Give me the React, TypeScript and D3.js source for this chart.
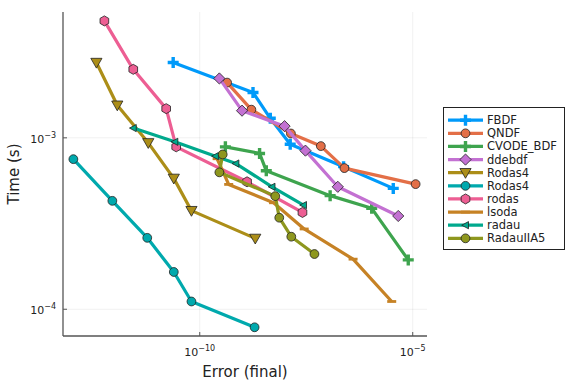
import React, {useEffect, useRef} from "react";
import * as d3 from "d3";

// error (final) / time (s) pairs
const fbdfErr = [2.38e-11, 1.78e-9, 4.53e-9, 1.33e-8, 2.38e-7, 3.49e-6];
const fbdfTime = [2.75e-3, 1.84e-3, 1.30e-3, 9.18e-4, 6.79e-4, 5.07e-4];
const qndfErr = [4.39e-10, 1.63e-9, 1.38e-8, 6.97e-8, 2.49e-7, 1.17e-5];
const qndfTime = [2.10e-3, 1.46e-3, 1.06e-3, 8.95e-4, 6.66e-4, 5.37e-4];
const cvodeErr = [4.0e-10, 2.54e-9, 3.65e-9, 1.15e-7, 1.09e-6, 7.85e-6];
const cvodeTime = [8.86e-4, 8.11e-4, 6.42e-4, 4.60e-4, 3.88e-4, 1.94e-4];
const ddebdfErr = [2.89e-10, 9.84e-10, 9.8e-9, 3.03e-8, 1.74e-7, 4.57e-6];
const ddebdfTime = [2.22e-3, 1.44e-3, 1.17e-3, 8.42e-4, 5.18e-4, 3.50e-4];
const rodas4aErr = [3.75e-13, 1.16e-12, 6.19e-12, 2.46e-11, 6.39e-11, 2.01e-9];
const rodas4aTime = [2.75e-3, 1.55e-3, 9.35e-4, 5.80e-4, 3.76e-4, 2.59e-4];
const rodas4bErr = [1.08e-13, 8.88e-13, 5.86e-12, 2.46e-11, 6.39e-11, 1.94e-9];
const rodas4bTime = [7.51e-4, 4.29e-4, 2.61e-4, 1.65e-4, 1.11e-4, 7.85e-5];
const rodasErr = [5.77e-13, 2.75e-12, 1.63e-11, 2.8e-11, 1.29e-9, 2.58e-8];
const rodasTime = [4.81e-3, 2.51e-3, 1.48e-3, 8.86e-4, 5.54e-4, 3.67e-4];
const lsodaErr = [2.56e-10, 4.78e-10, 5.41e-9, 2.83e-8, 3.98e-7, 3.21e-6];
const lsodaTime = [7.55e-4, 5.35e-4, 4.18e-4, 2.94e-4, 1.96e-4, 1.11e-4];
const radauErr = [2.75e-12, 2.6e-11, 2.33e-10, 7.05e-10, 4.97e-9, 2.73e-8];
const radauTime = [1.14e-3, 9.48e-4, 7.82e-4, 7.08e-4, 5.18e-4, 4.05e-4];
const radau5Err = [3.46e-10, 2.89e-10, 5.93e-9, 7.36e-9, 1.41e-8, 4.93e-8];
const radau5Time = [8.0e-4, 6.29e-4, 4.57e-4, 3.42e-4, 2.65e-4, 2.10e-4];

const names = ["FBDF", "QNDF", "CVODE_BDF", "ddebdf", "Rodas4", "Rodas4", "rodas", "lsoda", "radau", "RadauIIA5"];
const colors = ["#009afa", "#e36f47", "#3ea44e", "#c371d2", "#ac8e18", "#00a9ad", "#ed5e93", "#c68225", "#00a98d", "#8e971e"];
const markers = ["cross", "circle", "cross", "diamond", "dtriangle", "circle", "hexagon", "hline", "ltriangle", "circle"];
const errs = [fbdfErr, qndfErr, cvodeErr, ddebdfErr, rodas4aErr, rodas4bErr, rodasErr, lsodaErr, radauErr, radau5Err];
const times = [fbdfTime, qndfTime, cvodeTime, ddebdfTime, rodas4aTime, rodas4bTime, rodasTime, lsodaTime, radauTime, radau5Time];

const xTicks = [1e-10, 1e-5];
const yTicks = [1e-3, 1e-4];

const W = 576;
const H = 384;
const FONT = "DejaVu Sans, sans-serif";
const left = 63, right = 427, top = 12, bottom = 336;

function markerPath(kind: string, x: number, y: number) {
  const p = d3.path();
  if (kind === "circle") {
    p.arc(x, y, 4.4, 0, 2 * Math.PI);
  } else if (kind === "cross") {
    const a = 5.5, t = 1.7;
    p.moveTo(x - t, y - a); p.lineTo(x + t, y - a); p.lineTo(x + t, y - t);
    p.lineTo(x + a, y - t); p.lineTo(x + a, y + t); p.lineTo(x + t, y + t);
    p.lineTo(x + t, y + a); p.lineTo(x - t, y + a); p.lineTo(x - t, y + t);
    p.lineTo(x - a, y + t); p.lineTo(x - a, y - t); p.lineTo(x - t, y - t);
  } else if (kind === "diamond") {
    const r = 5.6;
    p.moveTo(x, y - r); p.lineTo(x + r, y); p.lineTo(x, y + r); p.lineTo(x - r, y);
  } else if (kind === "dtriangle") {
    p.moveTo(x - 5.6, y - 4.2); p.lineTo(x + 5.6, y - 4.2); p.lineTo(x, y + 5.6);
  } else if (kind === "hexagon") {
    const r = 5;
    for (let i = 0; i < 6; i++) {
      const ang = Math.PI / 6 + (i * Math.PI) / 3;
      const px = x + r * Math.cos(ang), py = y + r * Math.sin(ang);
      if (i === 0) p.moveTo(px, py); else p.lineTo(px, py);
    }
  } else if (kind === "ltriangle") {
    p.moveTo(x - 3.8, y); p.lineTo(x + 3, y - 3.6); p.lineTo(x + 3, y + 3.6);
  } else if (kind === "hline") {
    p.rect(x - 4.5, y - 1.4, 9, 2.8);
  }
  p.closePath();
  return p.toString();
}

function drawMarker(g: any, kind: string, color: string, x: number, y: number) {
  const path = g.append("path").attr("d", markerPath(kind, x, y)).attr("fill", color);
  if (kind === "cross" || kind === "hline") {
    path.attr("stroke", "none");
  } else {
    path.attr("stroke", "#222").attr("stroke-width", 0.8);
  }
}

function supLabel(g: any, x: number, y: number, exp: number, anchor: string) {
  const t = g.append("text")
    .attr("x", x).attr("y", y)
    .attr("text-anchor", anchor)
    .attr("font-family", FONT)
    .attr("font-size", 11)
    .attr("fill", "#222");
  t.append("tspan").text("10");
  t.append("tspan").attr("font-size", 8).attr("dy", -5).text("\u2212" + Math.abs(exp));
}

export default function App() {
  const ref = useRef<SVGSVGElement>(null);

  useEffect(() => {
    const svg = d3.select(ref.current);
    svg.selectAll("*").remove();

    const x = d3.scaleLog().domain([Math.pow(10, -13.21), Math.pow(10, -4.665)]).range([left, right]);
    const y = d3.scaleLog().domain([Math.pow(10, -4.156), Math.pow(10, -2.266)]).range([bottom, top]);

    svg.append("rect").attr("width", W).attr("height", H).attr("fill", "white");

    // grid
    const grid = svg.append("g").attr("stroke", "#000").attr("stroke-opacity", 0.1).attr("stroke-width", 0.6);
    xTicks.forEach((v) => grid.append("line").attr("x1", x(v)).attr("x2", x(v)).attr("y1", top).attr("y2", bottom));
    yTicks.forEach((v) => grid.append("line").attr("x1", left).attr("x2", right).attr("y1", y(v)).attr("y2", y(v)));

    // axes
    const ax = svg.append("g").attr("stroke", "#555").attr("stroke-width", 1.3);
    ax.append("line").attr("x1", left).attr("x2", left).attr("y1", top).attr("y2", bottom);
    ax.append("line").attr("x1", left).attr("x2", right).attr("y1", bottom).attr("y2", bottom);
    xTicks.forEach((v) => ax.append("line").attr("stroke-width", 1).attr("x1", x(v)).attr("x2", x(v)).attr("y1", bottom).attr("y2", bottom - 4));
    yTicks.forEach((v) => ax.append("line").attr("stroke-width", 1).attr("x1", left).attr("x2", left + 4).attr("y1", y(v)).attr("y2", y(v)));

    xTicks.forEach((v) => supLabel(svg, x(v), bottom + 20, Math.round(Math.log10(v)), "middle"));
    yTicks.forEach((v) => supLabel(svg, left - 7, y(v) + 5, Math.round(Math.log10(v)), "end"));

    svg.append("text")
      .attr("x", (left + right) / 2).attr("y", 377)
      .attr("text-anchor", "middle")
      .attr("font-family", FONT).attr("font-size", 15).attr("fill", "#222")
      .text("Error (final)");
    svg.append("text")
      .attr("transform", `translate(19,${(top + bottom) / 2}) rotate(-90)`)
      .attr("text-anchor", "middle")
      .attr("font-family", FONT).attr("font-size", 15).attr("fill", "#222")
      .text("Time (s)");

    // series
    const line = d3.line<[number, number]>().x((d) => x(d[0])).y((d) => y(d[1]));
    names.forEach((_, i) => {
      const pts: [number, number][] = errs[i].map((e, j) => [e, times[i][j]]);
      const g = svg.append("g");
      g.append("path").attr("d", line(pts)).attr("fill", "none")
        .attr("stroke", colors[i]).attr("stroke-width", 3.2).attr("stroke-linejoin", "round");
      pts.forEach((d) => drawMarker(g, markers[i], colors[i], x(d[0]), y(d[1])));
    });

    // legend
    const lg = svg.append("g");
    lg.append("rect").attr("x", 443.5).attr("y", 107.5).attr("width", 121).attr("height", 142)
      .attr("fill", "white").attr("stroke", "#222").attr("stroke-width", 1);
    names.forEach((n, i) => {
      const ly = 120.2 + i * 13.125;
      lg.append("line").attr("x1", 448).attr("x2", 483).attr("y1", ly).attr("y2", ly)
        .attr("stroke", colors[i]).attr("stroke-width", 3.2);
      drawMarker(lg, markers[i], colors[i], 465.5, ly);
      lg.append("text").attr("x", 487).attr("y", ly + 4)
        .attr("font-family", FONT).attr("font-size", 11.5).attr("fill", "#222").text(n);
    });
  }, []);

  return (
    <svg ref={ref} width={W} height={H} style={{position: "absolute", left: 0, top: 0}} />
  );
}
